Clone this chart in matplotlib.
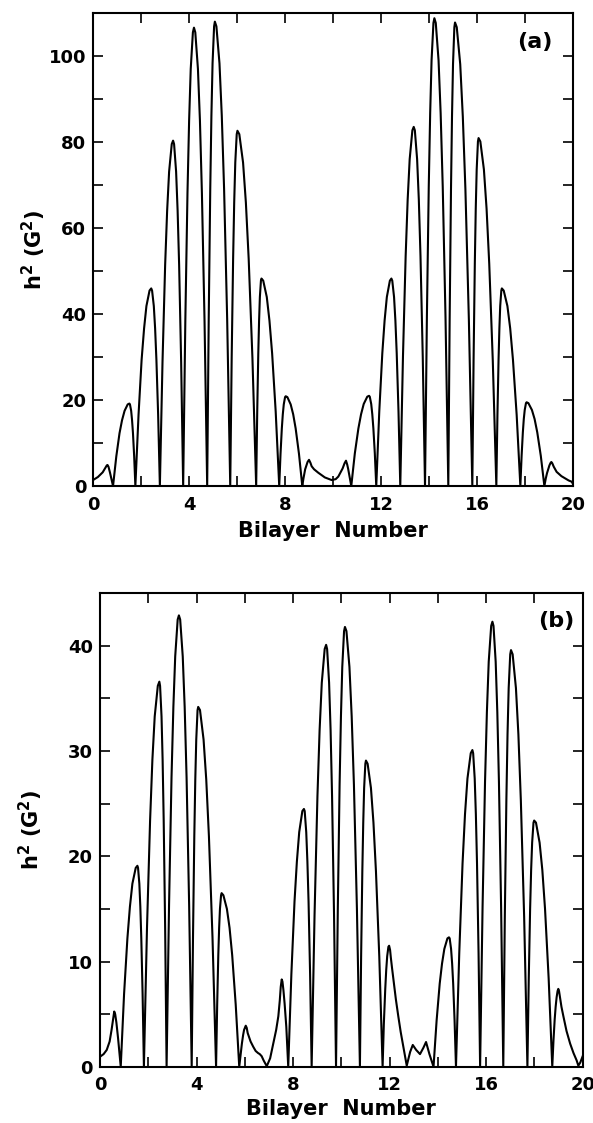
import matplotlib
matplotlib.use('Agg')
import matplotlib.pyplot as plt
from matplotlib.ticker import MultipleLocator

# traced curve, panel (a): bilayer number vs h^2 (G^2), one row per lobe
xa = [0, 0.2, 0.4, 0.52, 0.57, 0.6, 0.64, 0.70, 0.76, 0.83,
      0.966, 1.10, 1.204, 1.31, 1.44, 1.51, 1.535, 1.585, 1.6225, 1.66, 1.71, 1.76,
      1.892, 2.02, 2.123, 2.22, 2.35, 2.42, 2.456, 2.528, 2.582, 2.636, 2.708, 2.78,
      2.89, 3.00, 3.083, 3.165, 3.275, 3.33, 3.372, 3.456, 3.519, 3.582, 3.666, 3.75,
      3.84, 3.93, 3.998, 4.065, 4.155, 4.20, 4.255, 4.365, 4.448, 4.53, 4.64, 4.75,
      4.814, 4.878, 4.926, 4.974, 5.038, 5.07, 5.134, 5.262, 5.358, 5.454, 5.582, 5.71,
      5.77, 5.83, 5.875, 5.92, 5.98, 6.01, 6.088, 6.244, 6.361, 6.478, 6.634, 6.79,
      6.834, 6.878, 6.911, 6.944, 6.988, 7.01, 7.084, 7.232, 7.343, 7.454, 7.602, 7.75,
      7.804, 7.858, 7.899, 7.939, 7.993, 8.02, 8.089, 8.227, 8.331, 8.434, 8.572, 8.71,
      8.76, 8.83, 8.93, 8.99, 9.05, 9.1, 9.2, 9.375, 9.65, 9.93, 10.1, 10.21, 10.39,
      10.47, 10.53, 10.58, 10.62, 10.75,
      10.898, 11.046, 11.157, 11.268, 11.416, 11.49, 11.52, 11.58, 11.625, 11.67, 11.73, 11.79,
      11.916, 12.042, 12.137, 12.231, 12.357, 12.42, 12.457, 12.531, 12.587, 12.642, 12.716, 12.79,
      12.902, 13.014, 13.098, 13.182, 13.294, 13.35, 13.397, 13.491, 13.562, 13.632, 13.726, 13.82,
      13.898, 13.976, 14.035, 14.093, 14.171, 14.21, 14.268, 14.384, 14.471, 14.558, 14.674, 14.79,
      14.846, 14.902, 14.944, 14.986, 15.042, 15.07, 15.142, 15.286, 15.394, 15.502, 15.646, 15.79,
      15.842, 15.894, 15.933, 15.972, 16.024, 16.05, 16.124, 16.272, 16.383, 16.494, 16.642, 16.79,
      16.836, 16.882, 16.917, 16.951, 16.997, 17.02, 17.097, 17.251, 17.367, 17.482, 17.636, 17.79,
      17.842, 17.894, 17.933, 17.972, 18.024, 18.05, 18.124, 18.272, 18.383, 18.494, 18.642, 18.79,
      18.85, 18.9, 19.0, 19.05, 19.08, 19.12, 19.18, 19.3, 19.5, 19.65, 19.8, 19.93, 20.0]
ya = [1.4, 2.1, 3.2, 4.3, 4.8, 4.9, 4.5, 3.2, 1.7, 0,
      6.9, 12.3, 15.3, 17.5, 19.0, 19.2, 19.0, 17.5, 15.3, 12.3, 6.9, 0,
      16.6, 29.4, 36.7, 41.9, 45.5, 46.0, 45.5, 41.9, 36.7, 29.4, 16.6, 0,
      28.9, 51.5, 64.1, 73.2, 79.6, 80.4, 79.6, 73.2, 64.1, 51.5, 28.9, 0,
      38.4, 68.3, 85.1, 97.1, 105.6, 106.7, 105.6, 97.1, 85.1, 68.3, 38.4, 0,
      38.9, 69.2, 86.2, 98.4, 107.0, 108.1, 107.0, 98.4, 86.2, 69.2, 38.9, 0,
      29.8, 52.9, 66.0, 75.3, 81.9, 82.7, 81.9, 75.3, 66.0, 52.9, 29.8, 0,
      17.4, 30.9, 38.5, 44.0, 47.8, 48.3, 47.8, 44.0, 38.5, 30.9, 17.4, 0,
      7.5, 13.4, 16.7, 19.0, 20.7, 20.9, 20.7, 19.0, 16.7, 13.4, 7.5, 0,
      1.8, 3.9, 5.6, 6.1, 5.4, 4.6, 3.9, 3.1, 2.0, 1.4, 1.6, 2.2, 4.1,
      5.3, 5.9, 5.0, 4.0, 0,
      7.6, 13.4, 16.7, 19.1, 20.8, 21.0, 20.8, 19.1, 16.7, 13.4, 7.6, 0,
      17.4, 30.9, 38.5, 44.0, 47.8, 48.3, 47.8, 44.0, 38.5, 30.9, 17.4, 0,
      30.1, 53.5, 66.7, 76.1, 82.8, 83.6, 82.8, 76.1, 66.7, 53.5, 30.1, 0,
      39.2, 69.7, 86.8, 99.1, 107.8, 108.9, 107.8, 99.1, 86.8, 69.7, 39.2, 0,
      38.8, 69.1, 86.0, 98.2, 106.8, 107.9, 106.8, 98.2, 86.0, 69.1, 38.8, 0,
      29.2, 51.8, 64.6, 73.7, 80.2, 81.0, 80.2, 73.7, 64.6, 51.8, 29.2, 0,
      16.6, 29.4, 36.7, 41.9, 45.5, 46.0, 45.5, 41.9, 36.7, 29.4, 16.6, 0,
      7.0, 12.5, 15.6, 17.7, 19.3, 19.5, 19.3, 17.7, 15.6, 12.5, 7.0, 0,
      1.8, 3.0, 4.8, 5.4, 5.6, 5.3, 4.5, 3.3, 2.3, 1.8, 1.3, 1.0, 0.3]

# traced curve, panel (b)
xb = [0, 0.15, 0.28, 0.4, 0.48, 0.55, 0.59, 0.63, 0.68, 0.75, 0.86,
      0.998, 1.136, 1.240, 1.343, 1.481, 1.55, 1.577, 1.631, 1.672, 1.712, 1.766, 1.82,
      1.948, 2.076, 2.172, 2.268, 2.396, 2.46, 2.49, 2.55, 2.595, 2.64, 2.70, 2.76,
      2.862, 2.964, 3.041, 3.117, 3.219, 3.27, 3.323, 3.429, 3.509, 3.588, 3.694, 3.80,
      3.854, 3.908, 3.949, 3.989, 4.043, 4.07, 4.144, 4.292, 4.403, 4.514, 4.662, 4.81,
      4.856, 4.902, 4.937, 4.971, 5.017, 5.04, 5.113, 5.259, 5.369, 5.478, 5.624, 5.77,
      5.83, 5.88, 5.93, 5.97, 6.04, 6.08, 6.12, 6.24, 6.35, 6.45, 6.55, 6.62, 6.70, 6.78, 6.91,
      7.05, 7.18, 7.30, 7.39, 7.45, 7.49, 7.53, 7.56, 7.60, 7.65, 7.72, 7.80,
      7.93, 8.06, 8.158, 8.255, 8.385, 8.45, 8.482, 8.546, 8.594, 8.642, 8.706, 8.77,
      8.89, 9.01, 9.10, 9.19, 9.31, 9.37, 9.411, 9.493, 9.555, 9.616, 9.698, 9.78,
      9.854, 9.928, 9.984, 10.039, 10.113, 10.15, 10.212, 10.336, 10.429, 10.522, 10.646, 10.77,
      10.82, 10.87, 10.908, 10.945, 10.995, 11.02, 11.089, 11.227, 11.331, 11.434, 11.572, 11.71,
      11.76, 11.82, 11.86, 11.90, 11.95, 11.98, 12.02, 12.05, 12.1, 12.16, 12.26, 12.36, 12.46,
      12.57, 12.71,
      12.85, 12.96, 13.1, 13.26, 13.4, 13.51, 13.65, 13.82,
      13.948, 14.076, 14.172, 14.268, 14.396, 14.46, 14.489, 14.547, 14.591, 14.634, 14.692, 14.75,
      14.886, 15.022, 15.124, 15.226, 15.362, 15.43, 15.462, 15.526, 15.574, 15.622, 15.686, 15.75,
      15.852, 15.954, 16.031, 16.107, 16.209, 16.26, 16.305, 16.395, 16.463, 16.53, 16.62, 16.71,
      16.774, 16.838, 16.886, 16.934, 16.998, 17.03, 17.098, 17.234, 17.336, 17.438, 17.574, 17.71,
      17.766, 17.822, 17.864, 17.906, 17.962, 17.99, 18.065, 18.215, 18.328, 18.44, 18.59, 18.74,
      18.79, 18.84, 18.88, 18.92, 18.96, 18.99, 19.02, 19.06, 19.12, 19.2, 19.33, 19.48, 19.62,
      19.75, 19.82, 19.9, 20.0]
yb = [0.95, 1.2, 1.6, 2.4, 3.5, 4.6, 5.25, 5.0, 4.2, 2.7, 0,
      6.9, 12.2, 15.2, 17.4, 18.9, 19.1, 18.9, 17.4, 15.2, 12.2, 6.9, 0,
      13.2, 23.4, 29.2, 33.3, 36.2, 36.6, 36.2, 33.3, 29.2, 23.4, 13.2, 0,
      15.4, 27.5, 34.2, 39.0, 42.5, 42.9, 42.5, 39.0, 34.2, 27.5, 15.4, 0,
      12.3, 21.9, 27.3, 31.1, 33.9, 34.2, 33.9, 31.1, 27.3, 21.9, 12.3, 0,
      5.9, 10.6, 13.2, 15.0, 16.3, 16.5, 16.3, 15.0, 13.2, 10.6, 5.9, 0,
      1.2, 2.2, 3.0, 3.5, 3.9, 3.7, 3.2, 2.4, 1.9, 1.5, 1.3, 1.2, 1.0, 0.6, 0.05,
      0.8, 2.2, 3.5, 4.8, 6.3, 7.6, 8.3, 8.1, 7.3, 6.0, 3.8, 0,
      8.8, 15.7, 19.5, 22.3, 24.3, 24.5, 24.3, 22.3, 19.5, 15.7, 8.8, 0,
      14.4, 25.7, 32.0, 36.5, 39.7, 40.1, 39.7, 36.5, 32.0, 25.7, 14.4, 0,
      15.0, 26.8, 33.3, 38.0, 41.4, 41.8, 41.4, 38.0, 33.3, 26.8, 15.0, 0,
      10.5, 18.6, 23.2, 26.5, 28.8, 29.1, 28.8, 26.5, 23.2, 18.6, 10.5, 0,
      4.0, 7.4, 9.2, 10.5, 11.4, 11.5, 11.1, 10.4, 9.4, 8.3, 6.4, 4.8, 3.3,
      1.9, 0.1,
      1.4, 2.07, 1.6, 1.2, 1.8, 2.35, 1.2, 0,
      4.4, 7.9, 9.8, 11.2, 12.2, 12.3, 12.2, 11.2, 9.8, 7.9, 4.4, 0,
      10.8, 19.3, 24.0, 27.4, 29.8, 30.1, 29.8, 27.4, 24.0, 19.3, 10.8, 0,
      15.2, 27.1, 33.7, 38.5, 41.9, 42.3, 41.9, 38.5, 33.7, 27.1, 15.2, 0,
      14.3, 25.3, 31.6, 36.0, 39.2, 39.6, 39.2, 36.0, 31.6, 25.3, 14.3, 0,
      8.4, 15.0, 18.7, 21.3, 23.2, 23.4, 23.2, 21.3, 18.7, 15.0, 8.4, 0,
      2.5, 4.5, 5.7, 6.6, 7.2, 7.4, 7.2, 6.6, 5.7, 4.8, 3.4, 2.2, 1.3,
      0.6, 0.1, 0.4, 1.0]

plt.rcParams['font.family'] = 'DejaVu Sans'
plt.rcParams['font.weight'] = 'bold'
plt.rcParams['mathtext.default'] = 'bf'

fig = plt.figure(figsize=(5.93, 11.23), dpi=100)
ax1 = fig.add_axes([0.157, 0.5672, 0.81, 0.4208])
ax2 = fig.add_axes([0.1686, 0.0501, 0.814, 0.4216])

panels = [
    (ax1, xa, ya, 110, 20, 10, '(a)', (0.92, 0.94), -0.094, 5),
    (ax2, xb, yb, 45, 10, 5, '(b)', (0.946, 0.941), -0.114, 3),
]

for ax, x, y, ymax, ymaj, ymin, tag, tpos, ylx, lpad in panels:
    ax.plot(x, y, color='black', lw=1.5)
    ax.set_xlim(0, 20)
    ax.set_ylim(0, ymax)
    ax.xaxis.set_major_locator(MultipleLocator(4))
    ax.xaxis.set_minor_locator(MultipleLocator(2))
    ax.yaxis.set_major_locator(MultipleLocator(ymaj))
    ax.yaxis.set_minor_locator(MultipleLocator(ymin))
    ax.tick_params(which='both', direction='in', top=True, right=True,
                   length=7, width=1.2, labelsize=13)
    ax.tick_params(axis='x', pad=7)
    ax.tick_params(axis='y', pad=5)
    for s in ax.spines.values():
        s.set_linewidth(1.5)
    ax.set_xlabel('Bilayer  Number', fontsize=15, fontweight='bold', labelpad=lpad)
    ax.set_ylabel(r'h$^{2}$ (G$^{2}$)', fontsize=15, fontweight='bold')
    ax.yaxis.set_label_coords(ylx, 0.5)
    ax.text(tpos[0], tpos[1], tag, transform=ax.transAxes, fontsize=16,
            ha='center', va='center')

plt.savefig('out.png', dpi=100)
